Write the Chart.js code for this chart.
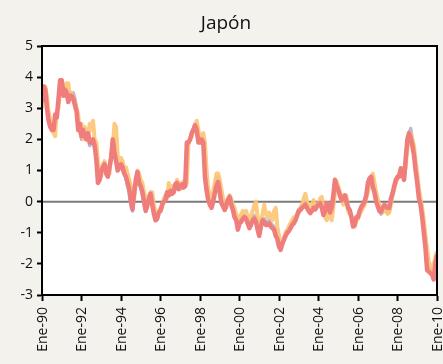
<!DOCTYPE html>
<html>
<head>
<meta charset="utf-8">
<script src="https://cdn.jsdelivr.net/npm/chart.js@4/dist/chart.umd.min.js"></script>
<style>
  html, body { margin: 0; padding: 0; background: #f4f2ed; }
  #wrap { width: 443px; height: 364px; position: relative; }
</style>
</head>
<body>
<div id="wrap"><canvas id="c" width="443" height="364"></canvas></div>
<script>
// Monthly inflation series, Jan-1990 .. Jan-2010
const title = "Japón";
const monthNames = ["Ene","Feb","Mar","Abr","May","Jun","Jul","Ago","Sep","Oct","Nov","Dic"];
const firstYear = 1990;
const tickLabels = ["Ene-90","Ene-92","Ene-94","Ene-96","Ene-98","Ene-00","Ene-02","Ene-04","Ene-06","Ene-08","Ene-10"];
const yTicks = [-3, -2, -1, 0, 1, 2, 3, 4, 5];

const serieRoja = [
  3.2, 3.7, 3.6, 3.0, 2.6, 2.4, 2.3, 2.3, 2.8, 2.7, 3.3, 3.9,
  3.9, 3.4, 3.6, 3.5, 3.2, 3.4, 3.4, 3.3, 3.1, 2.9, 2.3, 2.5,
  2.1, 2.3, 2.1, 2.0, 2.2, 1.9, 1.9, 2.0, 1.8, 1.35, 0.6, 0.7,
  1.0, 1.1, 1.2, 0.9, 0.8, 1.1, 1.4, 2.0, 1.6, 1.3, 1.0, 1.1,
  1.2, 1.1, 0.9, 0.8, 0.6, 0.4, 0.0, -0.25, 0.3, 0.7, 0.95, 0.6,
  0.5, 0.3, 0.0, -0.3, -0.1, 0.1, 0.25, -0.1, -0.4, -0.6, -0.55, -0.35,
  -0.3, -0.1, 0.0, 0.05, 0.3, 0.2, 0.35, 0.25, 0.3, 0.55, 0.6, 0.4,
  0.5, 0.55, 0.45, 0.5, 1.9, 1.9, 2.0, 2.2, 2.3, 2.45, 2.3, 1.9,
  1.9, 2.0, 1.9, 0.8, 0.35, 0.05, -0.1, -0.2, 0.0, 0.27, 0.5, 0.63,
  0.3, -0.05, -0.15, -0.27, -0.1, 0.05, 0.15, -0.1, -0.27, -0.5, -0.6, -0.9,
  -0.7, -0.65, -0.55, -0.5, -0.55, -0.7, -0.85, -0.75, -0.6, -0.55, -0.65, -0.9,
  -1.1, -0.8, -0.6, -0.65, -0.75, -0.75, -0.7, -0.8, -0.85, -0.9, -1.1, -1.2,
  -1.45, -1.55, -1.35, -1.23, -1.1, -1.0, -0.95, -0.85, -0.75, -0.7, -0.6, -0.45,
  -0.3, -0.27, -0.2, -0.15, -0.1, -0.2, -0.3, -0.37, -0.3, -0.2, -0.25, -0.15,
  -0.1, -0.05, -0.2, -0.43, -0.3, -0.05, -0.1, -0.35, -0.2, 0.2, 0.7, 0.5,
  0.37, 0.2, 0.05, 0.1, 0.2, 0.0, -0.2, -0.27, -0.5, -0.8, -0.75, -0.5,
  -0.5, -0.3, -0.17, -0.1, 0.0, 0.2, 0.6, 0.75, 0.8, 0.47, 0.3, 0.0,
  -0.15, -0.3, -0.33, -0.2, -0.1, -0.15, -0.2, -0.2, 0.1, 0.27, 0.5, 0.7,
  0.8, 0.8, 1.07, 0.9, 0.7, 1.4, 2.0, 2.2, 2.05, 1.8, 1.5, 1.0,
  0.6, 0.1, -0.1, -0.5, -1.0, -1.5, -2.2, -2.25, -2.3, -2.35, -2.5, -2.0,
  -1.7
];

const serieNaranja = [
  3.0, 3.4, 3.7, 3.4, 2.9, 2.6, 2.4, 2.2, 2.1, 2.9, 3.0, 3.5,
  3.9, 3.7, 3.5, 3.8, 3.8, 3.3, 3.5, 3.3, 3.2, 3.0, 2.8, 2.2,
  2.5, 2.0, 2.4, 2.2, 2.1, 2.5, 2.3, 2.6, 2.0, 1.9, 1.3, 0.9,
  0.8, 1.2, 1.3, 1.1, 1.0, 0.9, 1.5, 1.7, 2.5, 2.4, 1.5, 1.2,
  1.4, 1.3, 1.0, 1.1, 0.9, 0.7, 0.5, 0.3, 0.1, 0.6, 1.0, 0.9,
  0.7, 0.6, 0.3, 0.1, -0.2, 0.2, 0.3, 0.3, -0.1, -0.3, -0.5, -0.3,
  -0.2, -0.2, 0.1, 0.2, 0.1, 0.6, 0.3, 0.5, 0.35, 0.4, 0.7, 0.6,
  0.4, 0.6, 0.65, 0.5, 0.6, 1.9, 2.0, 2.1, 2.3, 2.4, 2.6, 2.3,
  2.0, 2.1, 2.2, 1.9, 1.0, 0.4, 0.2, 0.1, 0.3, 0.6, 0.9, 0.9,
  0.7, 0.4, 0.1, 0.0, -0.2, 0.1, 0.2, 0.1, -0.1, -0.2, -0.4, -0.5,
  -0.6, -0.4, -0.3, -0.35, -0.3, -0.5, -0.6, -0.45, -0.3, -0.1, 0.0, -0.5,
  -0.7, -0.6, -0.4, -0.1, -0.4, -0.5, -0.35, -0.5, -0.6, -0.3, -0.2, -0.8,
  -1.1, -1.3, -1.4, -1.2, -1.0, -0.9, -0.8, -0.7, -0.6, -0.5, -0.5, -0.4,
  -0.35, -0.2, -0.1, 0.1, 0.25, 0.0, -0.2, -0.3, -0.1, 0.05, -0.1, -0.2,
  -0.1, 0.1, 0.15, -0.2, -0.5, -0.6, -0.3, -0.5, -0.6, -0.2, 0.3, 0.65,
  0.5, 0.3, 0.2, -0.1, 0.1, 0.2, -0.3, -0.4, -0.45, -0.6, -0.8, -0.6,
  -0.55, -0.4, -0.3, -0.2, -0.1, 0.1, 0.3, 0.6, 0.7, 0.9, 0.6, 0.3,
  0.1, -0.1, -0.3, -0.35, -0.25, -0.3, -0.4, -0.35, -0.1, 0.2, 0.4, 0.6,
  0.75, 0.9, 0.85, 1.0, 0.9, 1.1, 1.7, 2.1, 2.2, 2.0, 1.8, 1.3,
  0.9, 0.4, 0.1, -0.2, -0.6, -1.1, -1.5, -1.9, -2.1, -2.2, -2.0, -1.8,
  -1.6
];

const serieGris = [
  3.1, 3.6, 3.6, 3.1, 2.7, 2.5, 2.3, 2.35, 2.7, 2.8, 3.2, 3.8,
  3.85, 3.5, 3.6, 3.55, 3.3, 3.45, 3.5, 3.5, 3.3, 3.0, 2.4, 2.5,
  2.0, 2.3, 2.2, 2.0, 2.1, 1.8, 1.9, 2.0, 1.7, 1.5, 0.8, 0.7,
  1.0, 1.1, 1.25, 0.95, 0.85, 1.1, 1.5, 2.0, 1.7, 1.35, 1.0, 1.1,
  1.2, 1.0, 0.9, 0.75, 0.5, 0.3, -0.1, -0.3, 0.2, 0.6, 0.9, 0.55,
  0.45, 0.25, -0.05, -0.3, -0.15, 0.1, 0.3, -0.05, -0.35, -0.55, -0.5, -0.3,
  -0.25, -0.05, 0.0, 0.1, 0.3, 0.25, 0.35, 0.3, 0.35, 0.55, 0.6, 0.45,
  0.5, 0.55, 0.5, 0.55, 1.7, 1.9, 2.0, 2.25, 2.35, 2.5, 2.35, 2.0,
  1.95, 2.05, 1.95, 1.0, 0.4, 0.1, -0.05, -0.1, 0.1, 0.4, 0.7, 0.8,
  0.5, 0.1, -0.1, -0.2, -0.05, 0.1, 0.2, -0.05, -0.2, -0.4, -0.5, -0.8,
  -0.65, -0.6, -0.5, -0.45, -0.5, -0.6, -0.75, -0.65, -0.5, -0.45, -0.5, -0.8,
  -1.0, -0.75, -0.55, -0.55, -0.65, -0.7, -0.6, -0.7, -0.75, -0.8, -0.95, -1.1,
  -1.35, -1.45, -1.3, -1.15, -1.05, -0.95, -0.9, -0.8, -0.7, -0.6, -0.55, -0.4,
  -0.25, -0.2, -0.1, -0.05, 0.0, -0.1, -0.25, -0.3, -0.25, -0.15, -0.2, -0.1,
  -0.05, 0.0, -0.15, -0.35, -0.35, -0.1, -0.05, -0.3, -0.15, 0.15, 0.6, 0.5,
  0.35, 0.2, 0.1, 0.1, 0.15, 0.0, -0.15, -0.3, -0.45, -0.7, -0.7, -0.5,
  -0.45, -0.3, -0.15, -0.05, 0.05, 0.2, 0.5, 0.7, 0.75, 0.5, 0.3, 0.05,
  -0.1, -0.3, -0.4, -0.3, -0.15, -0.2, -0.35, -0.3, 0.0, 0.2, 0.45, 0.65,
  0.75, 0.8, 1.0, 0.9, 0.75, 1.3, 1.9, 2.2, 2.35, 2.0, 1.6, 1.1,
  0.7, 0.2, -0.05, -0.4, -0.9, -1.4, -2.0, -2.1, -2.2, -2.2, -2.3, -2.1,
  -1.8
];

// month labels "Ene-90", "Feb-90", ...
const months = serieRoja.map((_, i) =>
  monthNames[i % 12] + "-" + String((firstYear + Math.floor(i / 12)) % 100).padStart(2, "0"));

const toPoints = arr => arr.map((v, i) => ({ x: i, y: v }));

const FONT = "'Open Sans', 'DejaVu Sans', sans-serif";

// Title, frame and zero line drawn on the canvas
const decor = {
  id: "decor",
  beforeDatasetsDraw(chart) {
    const { ctx, chartArea: a, scales } = chart;
    const y0 = scales.y.getPixelForValue(0);
    ctx.save();
    ctx.strokeStyle = "#7a7a7a";
    ctx.lineWidth = 2;
    ctx.beginPath();
    ctx.moveTo(a.left, y0);
    ctx.lineTo(a.right, y0);
    ctx.stroke();
    ctx.restore();
  },
  afterDraw(chart) {
    const { ctx, chartArea: a } = chart;
    ctx.save();
    ctx.strokeStyle = "#000";
    ctx.lineWidth = 2;
    ctx.strokeRect(a.left, a.top, a.right - a.left, a.bottom - a.top);
    ctx.fillStyle = "#111";
    ctx.font = "19px " + FONT;
    ctx.textAlign = "center";
    ctx.textBaseline = "alphabetic";
    ctx.fillText(title, 226, 29);
    ctx.restore();
  }
};

const bgPlugin = {
  id: "bg",
  beforeDraw(chart) {
    const { ctx, chartArea: a } = chart;
    ctx.save();
    ctx.fillStyle = "#f4f2ed";
    ctx.fillRect(0, 0, chart.width, chart.height);
    ctx.fillStyle = "#ffffff";
    ctx.fillRect(a.left, a.top, a.right - a.left, a.bottom - a.top);
    ctx.restore();
  }
};

new Chart(document.getElementById("c"), {
  type: "line",
  data: {
    labels: months,
    datasets: [
      { label: "Roja", data: toPoints(serieRoja), borderColor: "#ef7d7b", borderWidth: 4.5, order: 1 },
      { label: "Naranja", data: toPoints(serieNaranja), borderColor: "rgba(253,196,115,0.9)", borderWidth: 4, order: 2 },
      { label: "Gris", data: toPoints(serieGris), borderColor: "rgba(170,172,212,0.85)", borderWidth: 3.5, order: 3 }
    ]
  },
  options: {
    responsive: false,
    animation: false,
    events: [],
    elements: { point: { radius: 0 }, line: { tension: 0, borderJoinStyle: "round" } },
    layout: { padding: { top: 46, right: 6, left: 0, bottom: 0 } },
    plugins: { legend: { display: false }, title: { display: false }, tooltip: { enabled: false } },
    scales: {
      x: {
        type: "linear",
        min: 0,
        max: 240,
        afterFit(s) { s.height = 69; s.paddingLeft = 0; s.paddingRight = 0; },
        afterBuildTicks(s) { s.ticks = tickLabels.map((_, i) => ({ value: i * 24 })); },
        ticks: {
          autoSkip: false,
          maxRotation: 90,
          minRotation: 90,
          padding: 6,
          labelOffset: 1,
          color: "#111",
          font: { family: FONT, size: 14 },
          callback: (v) => tickLabels[v / 24]
        },
        grid: { drawOnChartArea: false, drawTicks: true, tickLength: 6, tickColor: "#000", tickWidth: 2 },
        border: { color: "#000", width: 2 }
      },
      y: {
        min: -3,
        max: 5,
        afterFit(s) { s.width = 42; s.paddingTop = 0; s.paddingBottom = 0; },
        afterBuildTicks(s) { s.ticks = yTicks.map(v => ({ value: v })); },
        ticks: {
          padding: 4,
          color: "#111",
          font: { family: FONT, size: 14 }
        },
        grid: { drawOnChartArea: false, drawTicks: true, tickLength: 5, tickColor: "#000", tickWidth: 2 },
        border: { color: "#000", width: 2 }
      }
    }
  },
  plugins: [bgPlugin, decor]
});
</script>
</body>
</html>
